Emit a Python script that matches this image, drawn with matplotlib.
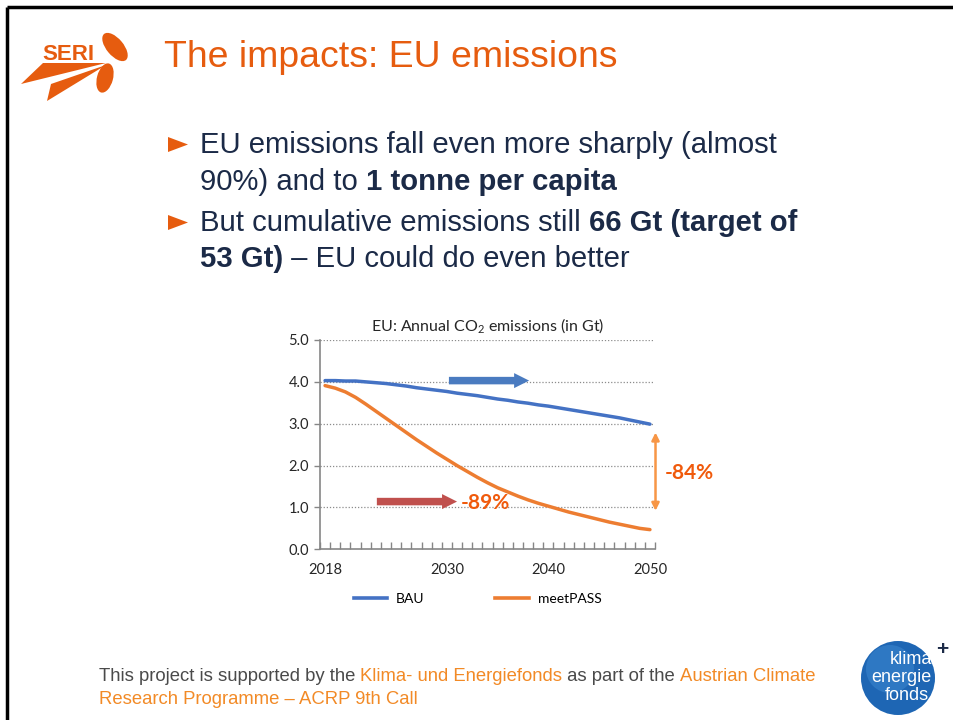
"""Slide recreation: EU annual CO2 emissions, BAU vs meetPASS."""

import matplotlib

matplotlib.use("Agg")
import matplotlib.pyplot as plt
from matplotlib.lines import Line2D
from matplotlib.patches import Circle, Ellipse, Polygon

W, H = 954, 720

years = list(range(2018, 2051))
bau = [4.03, 4.03, 4.02, 4.02, 4.00, 3.98, 3.96, 3.93, 3.90, 3.86, 3.83,
       3.80, 3.77, 3.73, 3.70, 3.67, 3.63, 3.59, 3.56, 3.52, 3.49, 3.45,
       3.42, 3.38, 3.34, 3.30, 3.26, 3.22, 3.18, 3.14, 3.09, 3.04, 2.99]
meetpass = [3.91, 3.85, 3.76, 3.63, 3.47, 3.30, 3.13, 2.96, 2.79, 2.62, 2.46,
            2.30, 2.15, 2.00, 1.86, 1.72, 1.59, 1.47, 1.37, 1.27, 1.18, 1.10,
            1.03, 0.96, 0.89, 0.83, 0.77, 0.71, 0.65, 0.60, 0.55, 0.50, 0.47]
year_labels = [2018, 2030, 2040, 2050]
y_ticks = [0, 1, 2, 3, 4, 5]
series_names = ["BAU", "meetPASS"]

SLIDE_FONT = ["Liberation Sans", "DejaVu Sans"]
CHART_FONT = ["Lato", "DejaVu Sans"]
ORANGE = "#e65c0f"
NAVY = "#1b2a47"
FOOT_GREY = "#4a4a4a"
FOOT_ORANGE = "#f28a26"
BLUE = "#4472c4"
LINE_ORANGE = "#ed7d31"

plt.rcParams["mathtext.fontset"] = "custom"
plt.rcParams["mathtext.rm"] = "Lato"

fig = plt.figure(figsize=(W / 100, H / 100), dpi=100)
renderer = fig.canvas.get_renderer()

# full-slide overlay in pixel coordinates
bg = fig.add_axes([0, 0, 1, 1])
bg.set_xlim(0, W)
bg.set_ylim(H, 0)
bg.axis("off")

# slide frame (top + left)
bg.plot([7, W], [7, 7], color="black", lw=2.5, solid_capstyle="butt")
bg.plot([7, 7], [7, H], color="black", lw=2.5, solid_capstyle="butt")

# SERI logo
bg.text(42, 60, "SERI", fontsize=16, color=ORANGE, family=SLIDE_FONT,
        va="baseline", ha="left", weight="bold")
bg.add_patch(Polygon([(21, 84), (43, 63), (106, 63)], color=ORANGE, lw=0))
bg.add_patch(Polygon([(47, 101), (51, 84), (106, 65)], color=ORANGE, lw=0))
bg.add_patch(Ellipse((115, 47), 17, 34, angle=-40, color=ORANGE, lw=0))
bg.add_patch(Ellipse((105, 78), 16, 30, angle=15, color=ORANGE, lw=0))

# slide title
bg.text(164, 67, "The impacts: EU emissions", fontsize=26.9, color=ORANGE,
        family=SLIDE_FONT, va="baseline")


def draw_runs(x, y, parts, size):
    """Draw consecutive text runs on one baseline, measuring as we go."""
    for text, weight, color in parts:
        t = bg.text(x, y, text, fontsize=size, weight=weight, color=color,
                    family=SLIDE_FONT, va="baseline", ha="left")
        x += t.get_window_extent(renderer).width


def bullet(y):
    bg.add_patch(Polygon([(168, y - 15), (168, y), (188, y - 7.5)],
                         color=ORANGE, lw=0))


BSIZE = 21.1
bullet(152)
draw_runs(200, 153, [("EU emissions fall even more sharply (almost", "normal", NAVY)], BSIZE)
draw_runs(200, 190, [("90%) and to ", "normal", NAVY),
                     ("1 tonne per capita", "bold", NAVY)], BSIZE)
bullet(230)
draw_runs(200, 231, [("But cumulative emissions still ", "normal", NAVY),
                     ("66 Gt (target of", "bold", NAVY)], BSIZE)
draw_runs(200, 267, [("53 Gt)", "bold", NAVY),
                     (" \u2013 EU could do even better", "normal", NAVY)], BSIZE)

# footer
FSIZE = 13.35
draw_runs(99, 681, [("This project is supported by the ", "normal", FOOT_GREY),
                    ("Klima- und Energiefonds", "normal", FOOT_ORANGE),
                    (" as part of the ", "normal", FOOT_GREY),
                    ("Austrian Climate", "normal", FOOT_ORANGE)], FSIZE)
draw_runs(99, 704, [("Research Programme \u2013 ACRP 9th Call", "normal", FOOT_ORANGE)], FSIZE)

# klima+energie fonds logo
bg.add_patch(Circle((898, 678), 37, color="#1e66b4", lw=0))
bg.add_patch(Circle((890, 669), 24, color="#3f8ad2", lw=0, alpha=0.5))
for txt, (lx, ly) in zip(["klima", "energie", "fonds"],
                         [(932, 664), (932, 682), (929, 700)]):
    bg.text(lx, ly, txt, fontsize=13, color="white", family=SLIDE_FONT,
            ha="right", va="baseline")
bg.text(942, 655, "+", fontsize=15, color="#1b2a47", family=SLIDE_FONT,
        ha="center", va="baseline", weight="bold")

# ---- chart ----
ax = fig.add_axes([320 / W, 1 - 549.3 / H, 335 / W, 209.3 / H])
ax.patch.set_alpha(0)
ax.set_xlim(2017.5, 2050.5)
ax.set_ylim(0, 5)

for v in y_ticks[1:]:
    ax.axhline(v, xmin=0, xmax=0.995, color="#8c8c8c", lw=0.9,
               linestyle=(0, (1, 1.5)), zorder=1)

ax.plot(years, bau, color=BLUE, lw=2.5, zorder=3, solid_capstyle="round")
ax.plot(years, meetpass, color=LINE_ORANGE, lw=2.5, zorder=3,
        solid_capstyle="round")

for side in ("top", "right"):
    ax.spines[side].set_visible(False)
for side in ("left", "bottom"):
    ax.spines[side].set_color("#868686")
    ax.spines[side].set_linewidth(1.2)

ax.set_yticks(y_ticks)
ax.set_yticklabels([f"{v:.1f}" for v in y_ticks], family=CHART_FONT,
                   fontsize=10.5, color="#262626")
ax.tick_params(axis="y", length=4, width=1, color="#868686", pad=4)

ax.set_xticks(year_labels)
ax.set_xticklabels([str(y) for y in year_labels], family=CHART_FONT,
                   fontsize=10.5, color="#262626")
ax.set_xticks([years[0] - 0.5 + k for k in range(len(years) + 1)], minor=True)
ax.tick_params(axis="x", which="major", length=0, pad=10)
ax.tick_params(axis="x", which="minor", direction="in", length=5, width=1,
               color="#868686")

ax.set_title("EU: Annual CO$_2$ emissions (in Gt)", family=CHART_FONT,
             fontsize=11.5, color="#262626", pad=6)

# annotation arrows
simple = "simple,head_length=0.9,head_width=0.9,tail_width=0.45"
ax.annotate("", xy=(2038.1, 4.03), xytext=(2030.2, 4.03),
            arrowprops=dict(arrowstyle=simple, color="#4a7bc0", lw=0,
                            mutation_scale=12, shrinkA=0, shrinkB=0),
            annotation_clip=False)
ax.annotate("", xy=(2031.0, 1.14), xytext=(2023.1, 1.14),
            arrowprops=dict(arrowstyle=simple, color="#c0504d", lw=0,
                            mutation_scale=12, shrinkA=0, shrinkB=0),
            annotation_clip=False)
ax.text(2031.4, 1.1, "-89%", family=CHART_FONT, fontsize=15, weight="bold",
        color="#f05a0c", va="center", ha="left")
ax.annotate("", xy=(2050.55, 2.79), xytext=(2050.55, 0.92),
            arrowprops=dict(arrowstyle="<|-|>", color="#f79646", lw=1.8,
                            mutation_scale=11, shrinkA=0, shrinkB=0),
            annotation_clip=False)
ax.text(2051.5, 1.83, "-84%", family=CHART_FONT, fontsize=15, weight="bold",
        color="#f05a0c", va="center", ha="left", clip_on=False)

handles = [Line2D([], [], color=BLUE, lw=2.6), Line2D([], [], color=LINE_ORANGE, lw=2.6)]
fig.legend(handles, series_names, loc="center", bbox_to_anchor=(477.5 / W, 1 - 599 / H),
           ncol=2, frameon=False, handlelength=2.4, handletextpad=0.65,
           columnspacing=5.1, prop={"family": CHART_FONT, "size": 10})

fig.savefig("out.png", dpi=100)
